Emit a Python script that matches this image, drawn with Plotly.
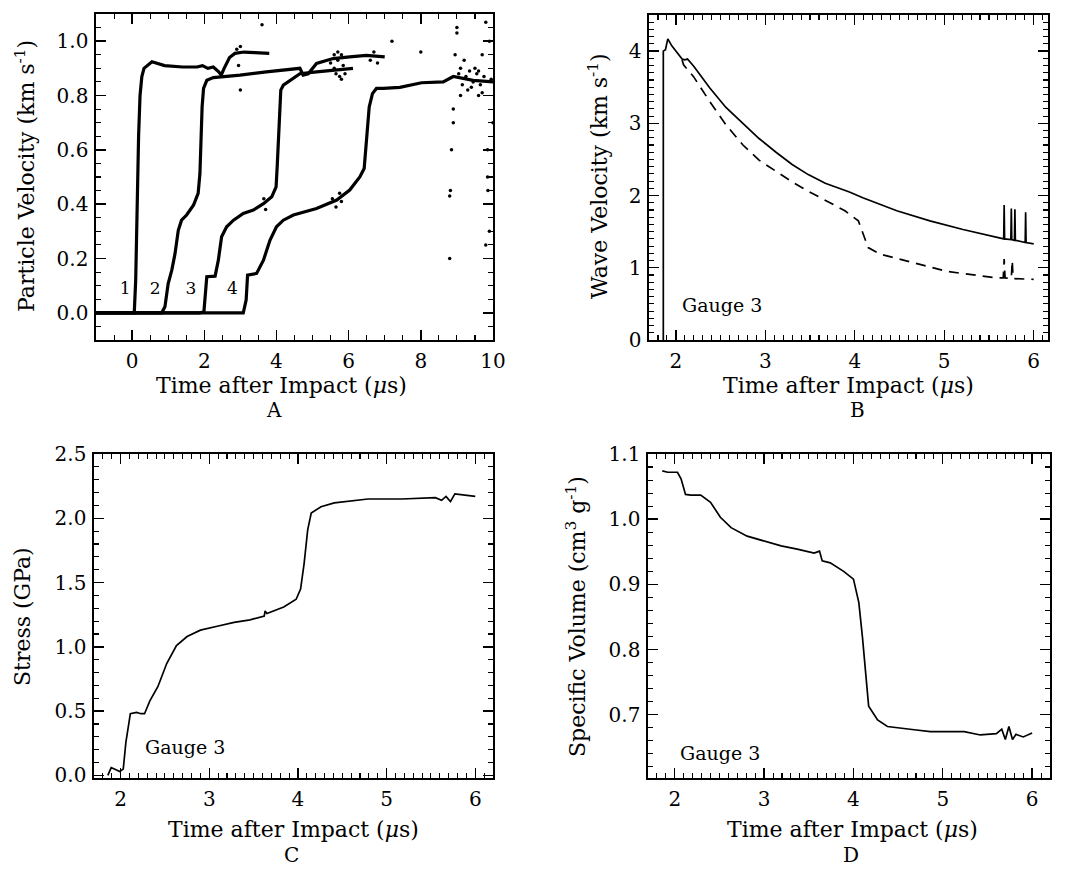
import plotly.graph_objects as go

# ---------------- Panel A: particle velocity, gauges 1-4 ----------------
g1_t = [-1.0, 0.0, 0.06, 0.1, 0.14, 0.18, 0.22, 0.27, 0.33, 0.55, 0.9, 1.4, 1.8, 1.95, 2.1, 2.25, 2.4, 2.47, 2.55, 2.7, 2.85, 3.1, 3.4, 3.8]
g1_v = [0.0, 0.0, 0.0, 0.12, 0.4, 0.65, 0.8, 0.87, 0.9, 0.924, 0.91, 0.905, 0.905, 0.91, 0.9, 0.905, 0.887, 0.875, 0.9, 0.94, 0.955, 0.96, 0.958, 0.955]

g2_t = [-1.0, 0.82, 0.91, 1.0, 1.1, 1.19, 1.28, 1.37, 1.51, 1.7, 1.83, 1.88, 1.91, 1.94, 1.98, 2.07, 2.25, 2.99, 3.72, 4.65, 4.74, 4.88, 5.11, 5.57, 6.03, 6.49, 7.0]
g2_v = [0.0, 0.0, 0.022, 0.108, 0.157, 0.218, 0.304, 0.341, 0.36, 0.396, 0.44, 0.513, 0.636, 0.758, 0.826, 0.856, 0.866, 0.875, 0.887, 0.9, 0.875, 0.88, 0.918, 0.936, 0.942, 0.948, 0.942]

g3_t = [-1.0, 1.88, 1.99, 2.07, 2.3, 2.39, 2.48, 2.62, 2.81, 3.08, 3.36, 3.64, 3.87, 3.99, 4.02, 4.08, 4.12, 4.19, 4.38, 4.65, 5.11, 5.57, 6.12]
g3_v = [0.0, 0.0, 0.004, 0.133, 0.135, 0.194, 0.28, 0.317, 0.341, 0.366, 0.378, 0.402, 0.427, 0.464, 0.537, 0.685, 0.82, 0.838, 0.856, 0.88, 0.887, 0.893, 0.9]

g4_t = [-1.0, 3.08, 3.16, 3.2, 3.45, 3.64, 3.82, 4.0, 4.19, 4.47, 5.11, 5.67, 6.03, 6.31, 6.43, 6.49, 6.57, 6.66, 6.77, 6.96, 7.42, 8.02, 8.62, 8.9, 9.45, 10.0]
g4_v = [0.0, 0.0, 0.047, 0.139, 0.145, 0.194, 0.267, 0.317, 0.341, 0.36, 0.384, 0.415, 0.452, 0.5, 0.531, 0.636, 0.758, 0.807, 0.826, 0.826, 0.83, 0.847, 0.85, 0.87, 0.856, 0.85]

noise_t = [8.8, 8.8, 8.82, 8.85, 8.9, 8.9, 8.95, 9.0, 9.0, 9.1, 9.1, 9.7, 9.8, 9.9, 9.85, 9.86, 9.9, 9.85, 9.8, 10.0, 8.0, 7.2, 3.6, 3.0, 3.0, 2.9,
           9.3, 9.5, 9.6, 9.2, 9.05, 9.15, 9.25, 9.35, 9.45, 9.55, 9.65, 9.75, 9.95, 9.4, 9.7, 9.6,
           5.5, 5.6, 5.65, 5.7, 5.75, 5.8, 5.85, 5.9, 5.6, 5.7, 5.8, 6.6, 6.7, 6.8,
           5.55, 5.65, 5.75, 5.8, 3.65, 3.7, 2.95]
noise_v = [0.2, 0.43, 0.45, 0.6, 0.7, 0.75, 0.95, 1.05, 1.03, 0.9, 0.8, 0.95, 1.07, 1.0, 0.5, 0.45, 0.3, 0.6, 0.25, 0.7, 0.96, 1.0, 1.06, 0.98, 0.82, 0.97,
           0.82, 0.9, 0.8, 0.93, 0.88, 0.84, 0.87, 0.89, 0.85, 0.88, 0.84, 0.87, 0.86, 0.83, 0.81, 0.89,
           0.92, 0.95, 0.88, 0.93, 0.87, 0.95, 0.91, 0.88, 0.9, 0.96, 0.86, 0.93, 0.96, 0.92,
           0.42, 0.39, 0.44, 0.41, 0.42, 0.38, 0.91]

gauge_labels = ["1", "2", "3", "4"]
gauge_label_t = [-0.19, 0.64, 1.63, 2.78]
gauge_label_v = [0.084, 0.084, 0.084, 0.084]

# ---------------- Panel B: wave velocity (gauge 3) ----------------
b_t = [1.86, 1.86, 1.884, 1.91, 1.957, 2.01, 2.07, 2.1, 2.13, 2.2, 2.38, 2.56, 2.75, 2.93, 3.12, 3.3, 3.48, 3.67, 3.94, 4.09, 4.47, 4.84, 5.21, 5.58, 5.665, 5.67, 5.675, 5.745, 5.75, 5.755, 5.785, 5.79, 5.795, 5.905, 5.91, 5.915, 6.0]
b_solid = [0.0, 4.0, 4.02, 4.17, 4.07, 3.98, 3.89, 3.88, 3.89, 3.79, 3.49, 3.22, 3.0, 2.79, 2.6, 2.43, 2.29, 2.17, 2.05, 1.97, 1.79, 1.65, 1.53, 1.43, 1.4, 1.87, 1.4, 1.39, 1.82, 1.39, 1.38, 1.81, 1.38, 1.35, 1.77, 1.35, 1.33]
bd_t = [2.07, 2.086, 2.196, 2.38, 2.56, 2.75, 2.93, 3.12, 3.3, 3.48, 3.67, 3.89, 4.04, 4.09, 4.15, 4.28, 4.65, 5.03, 5.58, 5.66, 5.67, 5.68, 5.75, 5.76, 5.77, 5.8, 6.0]
b_dash = [3.88, 3.81, 3.65, 3.3, 2.98, 2.7, 2.49, 2.33, 2.19, 2.06, 1.93, 1.79, 1.65, 1.47, 1.28, 1.19, 1.07, 0.95, 0.86, 0.86, 1.12, 0.86, 0.85, 1.1, 0.85, 0.85, 0.84]

# ---------------- Panel C: stress (gauge 3) ----------------
c_t = [1.856, 1.894, 1.93, 1.99, 2.03, 2.06, 2.11, 2.18, 2.23, 2.27, 2.33, 2.42, 2.52, 2.63, 2.75, 2.9, 3.09, 3.28, 3.46, 3.62, 3.63, 3.65, 3.84, 3.98, 4.03, 4.07, 4.11, 4.15, 4.26, 4.41, 4.79, 5.17, 5.55, 5.62, 5.67, 5.72, 5.77, 6.0]
c_stress = [0.0, 0.06, 0.05, 0.03, 0.05, 0.26, 0.48, 0.49, 0.48, 0.48, 0.58, 0.69, 0.87, 1.01, 1.08, 1.13, 1.16, 1.19, 1.21, 1.24, 1.28, 1.26, 1.31, 1.37, 1.45, 1.65, 1.91, 2.04, 2.09, 2.12, 2.15, 2.15, 2.16, 2.14, 2.17, 2.13, 2.19, 2.17]

# ---------------- Panel D: specific volume (gauge 3) ----------------
d_t = [1.86, 1.92, 2.03, 2.07, 2.12, 2.18, 2.29, 2.4, 2.51, 2.63, 2.81, 3.0, 3.19, 3.37, 3.56, 3.62, 3.65, 3.74, 3.89, 4.0, 4.06, 4.1, 4.14, 4.17, 4.27, 4.38, 4.68, 4.86, 5.24, 5.42, 5.6, 5.66, 5.7, 5.74, 5.78, 5.82, 5.9, 6.0]
d_vol = [1.074, 1.072, 1.072, 1.062, 1.038, 1.037, 1.037, 1.026, 1.003, 0.987, 0.974, 0.967, 0.959, 0.954, 0.948, 0.951, 0.936, 0.933, 0.92, 0.908, 0.872, 0.82, 0.754, 0.713, 0.692, 0.682, 0.677, 0.674, 0.674, 0.669, 0.671, 0.678, 0.662, 0.682, 0.662, 0.67, 0.666, 0.672]

# ---------------- layout helpers ----------------
W, H = 1066, 872
FONT = "DejaVu Serif"


def xd(a, b):
    return [a / W, b / W]


def yd(top, bottom):
    return [1 - bottom / H, 1 - top / H]


fig = go.Figure()
for tt_, vv_ in [(g1_t, g1_v), (g2_t, g2_v), (g3_t, g3_v), (g4_t, g4_v)]:
    fig.add_trace(go.Scatter(x=tt_, y=vv_, mode="lines", line=dict(color="black", width=3.2), xaxis="x", yaxis="y"))
fig.add_trace(go.Scatter(x=noise_t, y=noise_v, mode="markers", marker=dict(color="black", size=3.5), xaxis="x", yaxis="y"))
fig.add_trace(go.Scatter(x=gauge_label_t, y=gauge_label_v, mode="text", text=gauge_labels,
                         textfont=dict(family=FONT, size=17, color="black"), xaxis="x", yaxis="y"))

fig.add_trace(go.Scatter(x=b_t, y=b_solid, mode="lines", line=dict(color="black", width=1.7), xaxis="x2", yaxis="y2"))
fig.add_trace(go.Scatter(x=bd_t, y=b_dash, mode="lines", line=dict(color="black", width=1.7, dash="10px,7px"), xaxis="x2", yaxis="y2"))

fig.add_trace(go.Scatter(x=c_t, y=c_stress, mode="lines", line=dict(color="black", width=1.7), xaxis="x3", yaxis="y3"))
fig.add_trace(go.Scatter(x=d_t, y=d_vol, mode="lines", line=dict(color="black", width=1.7), xaxis="x4", yaxis="y4"))


def ax(domain, rng, dtick, mdtick, anchor, fmt=None, tick0=0):
    d = dict(domain=domain, range=rng, dtick=dtick, tick0=tick0, anchor=anchor, automargin=False,
             showline=True, linecolor="black", linewidth=1.6, mirror="allticks",
             ticks="inside", ticklen=10, tickwidth=1.4, tickcolor="black",
             showgrid=False, zeroline=False, ticklabelstandoff=2,
             tickfont=dict(family=FONT, size=20, color="black"),
             minor=dict(ticks="inside", ticklen=5, tickwidth=1.1, tickcolor="black", dtick=mdtick, tick0=tick0, showgrid=False))
    if fmt:
        d["tickformat"] = fmt
    return d


A_x, A_y = xd(96, 493), yd(14, 340)
B_x, B_y = xd(649, 1048), yd(15, 340)
C_x, C_y = xd(94, 493), yd(454, 778)
D_x, D_y = xd(648, 1050), yd(454, 778)

fig.update_layout(
    template="none",
    width=W, height=H, margin=dict(l=0, r=0, t=0, b=0, autoexpand=False),
    paper_bgcolor="white", plot_bgcolor="white", showlegend=False, hovermode=False,
    xaxis=ax(A_x, [-1, 10], 2, 0.5, "y"),
    yaxis=ax(A_y, [-0.1, 1.1], 0.2, 0.05, "x", ".1f"),
    xaxis2=ax(B_x, [1.7, 6.16], 1, 0.1, "y2"),
    yaxis2=ax(B_y, [0, 4.5], 1, 0.1, "x2"),
    xaxis3=ax(C_x, [1.7, 6.2], 1, 0.1, "y3"),
    yaxis3=ax(C_y, [-0.02, 2.5], 0.5, 0.1, "x3", ".1f"),
    xaxis4=ax(D_x, [1.7, 6.2], 1, 0.1, "y4"),
    yaxis4=ax(D_y, [0.603, 1.1], 0.1, 0.02, "x4", ".1f"),
)

ann = []


def txt(x, y, s, size=22, angle=0):
    ann.append(dict(x=x / W, y=1 - y / H, xref="paper", yref="paper", text=s, showarrow=False,
                    textangle=angle, font=dict(family=FONT, size=size, color="black"),
                    xanchor="center", yanchor="middle"))


tt = "Time after Impact (<i>μ</i>s)"
txt(281, 385, tt)
txt(848, 385, tt)
txt(293, 829, tt)
txt(852, 829, tt)
txt(274, 410, "A", 20)
txt(857, 410, "B", 20)
txt(291, 855, "C", 20)
txt(851, 855, "D", 20)
txt(25, 176, "Particle Velocity (km s<sup>-1</sup>)", 22, -90)
txt(598, 176, "Wave Velocity (km s<sup>-1</sup>)", 22, -90)
txt(22, 617, "Stress (GPa)", 22, -90)
txt(576, 617, "Specific Volume (cm<sup>3</sup> g<sup>-1</sup>)", 22, -90)
txt(722, 305, "Gauge 3", 19)
txt(185, 747, "Gauge 3", 19)
txt(720, 753, "Gauge 3", 19)
fig.update_layout(annotations=ann)

fig.write_html("out.html", config={"displayModeBar": False, "staticPlot": True},
               post_script="document.body.style.margin='0';document.body.style.overflow='hidden';")
